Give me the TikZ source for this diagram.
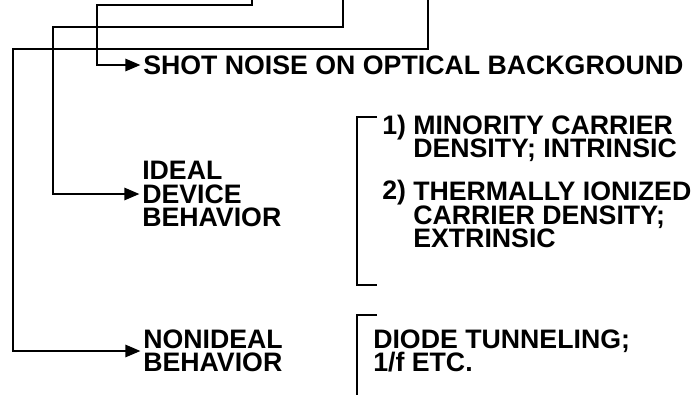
\documentclass[tikz,border=0pt]{standalone}
\usepackage{fontspec}
\setmainfont{Liberation Sans}
\usetikzlibrary{arrows.meta,positioning}
\newcommand\figfont{\bfseries\fontsize{19}{16.6}\selectfont\lineskiplimit=-6pt\relax}
\tikzset{
    txt/.style={inner sep=0pt, align=left, anchor=west, font=\figfont},
    feed/.style={draw, line width=0.7mm, -{Triangle[length=3.8mm,width=3mm]},
                 shorten >=0.6mm},
    bracket/.style={draw, line width=0.65mm},
}

\begin{document}
\begin{tikzpicture}[x=0.25mm, y=-0.25mm]
    \useasboundingbox (0,0) rectangle (698,395);
    % texts
    \node [txt] (shot)     at (143,65)  {SHOT NOISE ON OPTICAL BACKGROUND};
    \node [txt] (ideal)    at (142,194) {IDEAL\\DEVICE\\BEHAVIOR};
    \node [txt] (nonideal) at (143,351) {NONIDEAL\\BEHAVIOR};
    \node [txt] (num1)     at (382,128) {1)};
    \node [txt] (minor)    at (413,139) {MINORITY CARRIER\\DENSITY; INTRINSIC};
    \node [txt] (num2)     at (382,193) {2)};
    \node [txt] (thermal)  at (413,215) {THERMALLY IONIZED\\CARRIER DENSITY;\\EXTRINSIC};
    \node [txt] (diode)    at (373,351) {DIODE TUNNELING;\\1/f ETC.};
    % feeds from above
    \coordinate (srcA) at (252,0);
    \coordinate (srcB) at (343,0);
    \coordinate (srcC) at (428,0);
    \draw [feed] (srcA) |- (97,5)  |- (shot.west);
    \draw [feed] (srcB) |- (53,27) |- (ideal.west);
    \draw [feed] (srcC) |- (13,49) |- (nonideal.west);
    % brackets
    \draw [bracket] (377,117) -- (357,117) -- (357,285) -- (377,285);
    \draw [bracket] (377,315) -- (357,315) -- (357,395);
\end{tikzpicture}
\end{document}
